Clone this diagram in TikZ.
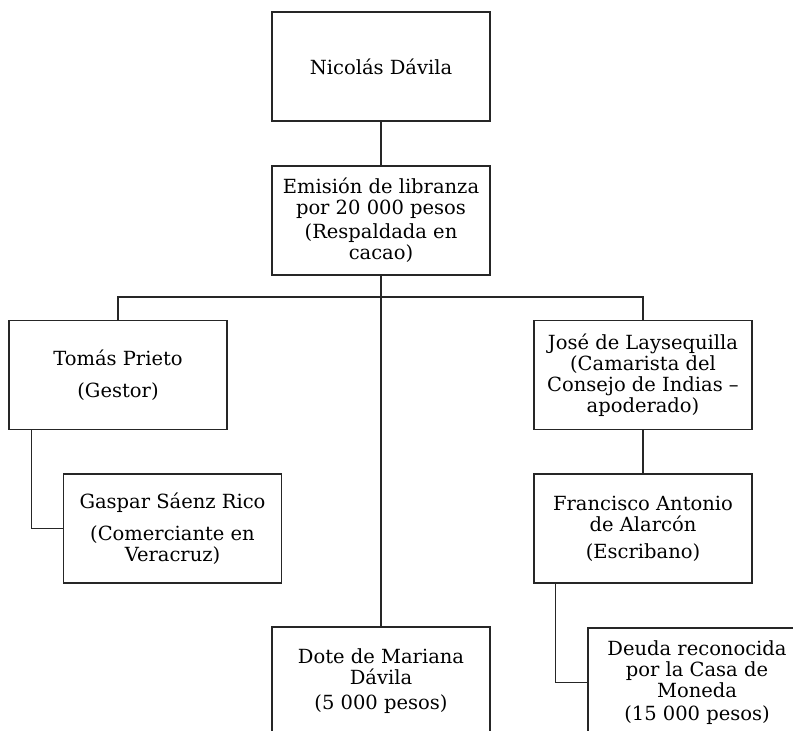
\documentclass[tikz,border=0pt]{standalone}
\usepackage{fontspec}
\setmainfont{DejaVu Serif}

\tikzset{
	caja/.style={draw=black!85, line width=1.2pt, minimum width=218pt, minimum height=109pt, align=center, font=\fontsize{19.5}{21}\selectfont, inner sep=2pt},
	enlace/.style={draw=black!85, line width=1.2pt}
}

\begin{document}
\begin{tikzpicture}[x=1pt,y=-1pt]
		\useasboundingbox (0,0) rectangle (793,731);
		\clip (0,0) rectangle (793,731);
		\node[caja] (nicolas) at (381,66.5) {Nicolás Dávila};
		\node[caja] (libranza) at (381,220.5) {Emisión de libranza\\por 20 000 pesos\\[3pt](Respaldada en\\cacao)};
		\node[caja] (prieto) at (118,375) {Tomás Prieto\\[11pt](Gestor)};
		\node[caja] (laysequilla) at (643,375) {José de Laysequilla\\(Camarista del\\Consejo de Indias –\\apoderado)};
		\node[caja] (saenz) at (172.5,528.5) {Gaspar Sáenz Rico\\[11pt](Comerciante en\\Veracruz)};
		\node[caja] (alarcon) at (643,528.5) {Francisco Antonio\\de Alarcón\\[6pt](Escribano)};
		\node[caja] (dote) at (381,681.5) {Dote de Mariana\\Dávila\\[4pt](5 000 pesos)};
		\node[caja] (deuda) at (697,682.5) {Deuda reconocida\\por la Casa de\\Moneda\\[2pt](15 000 pesos)};
		\coordinate (ramal) at (381,297);
		
		\draw[enlace] (nicolas) -- (libranza);
		\draw[enlace] (libranza) -- (dote);
		\draw[enlace] (prieto.north) |- (ramal) -| (laysequilla.north);
		\draw[enlace] (laysequilla) -- (alarcon);
		\draw[enlace] ([xshift=23pt]prieto.south west) |- (saenz.west);
		\draw[enlace] ([xshift=22pt]alarcon.south west) |- (deuda.west);
	\end{tikzpicture}
\end{document}
